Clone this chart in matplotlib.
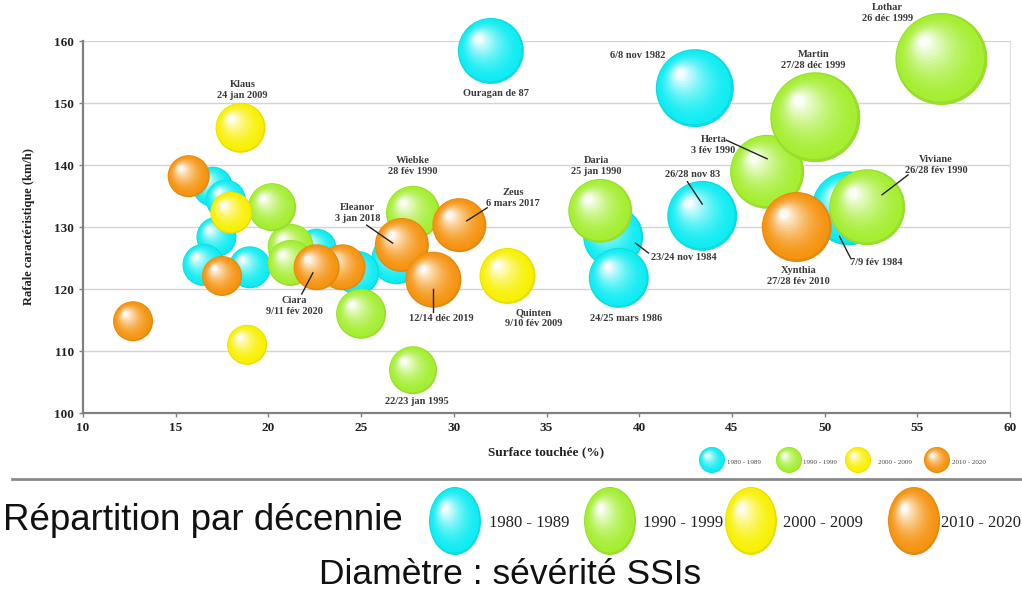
import numpy as np
import matplotlib
matplotlib.use('Agg')
from matplotlib import pyplot as plt
from matplotlib import colors as mcolors
from matplotlib.patches import Ellipse
from matplotlib.transforms import ScaledTranslation

# Tempêtes par décennie : surface touchée (%), rafale caractéristique (km/h), sévérité SSI (diamètre relatif)
surface_80 = [32.0, 43.0, 43.4, 51.3, 38.6, 38.9, 26.9, 24.8, 22.6, 17.0, 17.7, 17.2, 16.5, 19.0]
rafale_80 = [158.4, 152.4, 131.8, 133.0, 128.4, 121.8, 124.8, 122.6, 126.5, 136.5, 134.4, 128.4, 123.9, 123.5]
ssi_80 = [33, 39, 35, 37, 30, 30, 25, 22, 20, 20, 20, 20, 21, 21]

surface_90 = [56.3, 46.9, 49.5, 52.3, 37.9, 27.8, 27.8, 25.0, 21.2, 21.2, 20.2]
rafale_90 = [157.1, 138.9, 147.7, 133.2, 132.6, 132.3, 106.9, 116.0, 126.8, 124.2, 133.2]
ssi_90 = [46, 37, 45, 38, 32, 27, 24, 25, 23, 23, 24]

surface_00 = [18.5, 32.9, 18.0, 18.85]
rafale_00 = [146.0, 122.1, 132.3, 111.0]
ssi_00 = [25, 28, 21, 20]

surface_10 = [48.5, 30.3, 27.2, 28.9, 24.0, 22.6, 15.7, 17.5, 12.7]
rafale_10 = [130.0, 130.3, 127.1, 121.5, 123.5, 123.5, 138.2, 122.1, 114.8]
ssi_10 = [35, 27, 27, 28, 23, 23, 21, 20, 20]

decennies = ['1980 - 1989', '1990 - 1999', '2000 - 2009', '2010 - 2020']
couleurs = ['#0eecf2', '#a4ee30', '#f8f000', '#f5930f']

# Étiquettes : texte, x, y
etiquettes = [
    ("Klaus\n24 jan 2009", 18.6, 152.1),
    ("Ouragan de 87", 32.3, 151.6),
    ("6/8 nov 1982", 39.9, 157.6),
    ("Lothar\n26 déc 1999", 53.4, 164.5),
    ("Martin\n27/28 déc 1999", 49.4, 156.9),
    ("Herta\n3 fév 1990", 44.0, 143.2),
    ("26/28 nov 83", 42.9, 138.4),
    ("Viviane\n26/28 fév 1990", 56.0, 140.0),
    ("7/9 fév 1984", 52.8, 124.2),
    ("Xynthia\n27/28 fév 2010", 48.6, 122.1),
    ("Daria\n25 jan 1990", 37.7, 139.8),
    ("23/24 nov 1984", 42.4, 125.0),
    ("24/25 mars 1986", 39.3, 115.3),
    ("Quinten\n9/10 fév 2009", 34.3, 115.3),
    ("12/14 déc 2019", 29.3, 115.3),
    ("22/23 jan 1995", 28.0, 101.8),
    ("Zeus\n6 mars 2017", 33.2, 134.7),
    ("Wiebke\n28 fév 1990", 27.8, 139.8),
    ("Eleanor\n3 jan 2018", 24.8, 132.3),
    ("Ciara\n9/11 fév 2020", 21.4, 117.3),
]
# traits de rappel : (x0, y0, x1, y1)
traits = [
    (44.7, 144.0, 46.9, 141.0),
    (42.6, 137.3, 43.4, 133.7),
    (54.5, 138.4, 53.1, 135.2),
    (51.4, 125.0, 50.8, 128.5),
    (40.5, 125.8, 39.8, 127.4),
    (28.9, 116.3, 28.9, 120.0),
    (31.8, 133.1, 30.7, 131.0),
    (25.3, 130.3, 26.7, 127.4),
    (21.8, 119.2, 22.4, 122.6),
]

serif = ['Liberation Serif', 'DejaVu Serif']
fig = plt.figure(figsize=(10.22, 5.94), dpi=100)
ax = fig.add_axes([83 / 1022, 1 - 413 / 594, 927 / 1022, 372 / 594])

N = 18


def sphere(x, y, diam_pt, color, z):
    base = np.array(mcolors.to_rgb(color))
    for k in range(N):
        t = k / N
        f = 1 - 0.93 * t
        sh = (1 - f) * diam_pt / 2 * 0.42 / 72
        off = ScaledTranslation(-sh, sh, fig.dpi_scale_trans)
        if k == 0:
            c = base * 0.93
        else:
            c = base + (1 - base) * min(1, (t ** 1.8) * 1.05)
        ax.scatter([x], [y], s=(diam_pt * f) ** 2, color=c, edgecolors='none',
                   transform=ax.transData + off, zorder=2 + z + k * 1e-4, clip_on=False)


series = [(surface_80, rafale_80, ssi_80), (surface_90, rafale_90, ssi_90),
          (surface_00, rafale_00, ssi_00), (surface_10, rafale_10, ssi_10)]
z = 0
for (xs, ys, ss), col in zip(series, couleurs):
    for x, y, s in zip(xs, ys, ss):
        sphere(x, y, 2 * s * 0.72, col, z)
        z += 0.01

for txt, x, y in etiquettes:
    ax.text(x, y, txt, ha='center', va='center', fontsize=7.5, family=serif,
            fontweight='bold', color='#3a3a3a', linespacing=1.3, zorder=10)
for x0, y0, x1, y1 in traits:
    ax.plot([x0, x1], [y0, y1], color='#222222', lw=1, zorder=10)

ax.set_xlim(10, 60)
ax.set_ylim(100, 160)
ax.set_xticks(np.arange(10, 61, 5))
ax.set_yticks(np.arange(100, 161, 10))
ax.yaxis.grid(True, color='#d4d4d4', lw=1)
ax.set_axisbelow(True)
for sp in ['left', 'bottom']:
    ax.spines[sp].set_color('#808080')
    ax.spines[sp].set_linewidth(1.6)
ax.spines['right'].set_color('#dddddd')
ax.spines['top'].set_visible(False)
ax.tick_params(colors='#808080', length=3, width=1, labelcolor='#222222', labelsize=9.5)
for lab in ax.get_xticklabels() + ax.get_yticklabels():
    lab.set_family(serif)
    lab.set_fontweight('bold')
ax.set_ylabel('Rafale caractéristique (km/h)', family=serif, fontweight='bold',
              fontsize=9, color='#222222', labelpad=14)
ax.set_xlabel('Surface touchée (%)', family=serif, fontweight='bold',
              fontsize=9.5, color='#222222', labelpad=9)

# couche en pixels pour la légende et le bas de page
ov = fig.add_axes([0, 0, 1, 1])
ov.set_xlim(0, 1022)
ov.set_ylim(594, 0)
ov.axis('off')
ov.patch.set_visible(False)


def bulle(cx, cy, w, h, color):
    base = np.array(mcolors.to_rgb(color))
    for k in range(N):
        t = k / N
        f = 1 - 0.93 * t
        dx = (1 - f) * w / 2 * 0.42
        dy = (1 - f) * h / 2 * 0.42
        c = base * 0.93 if k == 0 else base + (1 - base) * min(1, (t ** 1.8) * 1.05)
        ov.add_patch(Ellipse((cx - dx, cy - dy), w * f, h * f, color=c, lw=0))


# petite légende
for cx, tx, lab, col in zip([712, 789, 858, 937], [727, 803, 878, 952], decennies, couleurs):
    bulle(cx, 460, 26, 26, col)
    ov.text(tx, 463, lab, fontsize=5, family=serif, color='#444444', va='center', ha='left')

ov.plot([12, 1022], [479, 479], color='#8a8a8a', lw=2)

sans = ['Liberation Sans', 'DejaVu Sans']
ov.text(3, 520, 'Répartition par décennie', fontsize=26.5, family=sans, va='center', ha='left', color='#111111')
ov.text(510, 575, 'Diamètre : sévérité SSIs', fontsize=25.5, family=sans, va='center', ha='center', color='#111111')
for cx, tx, lab, col in zip([455, 610, 751, 914], [489, 643, 783, 941], decennies, couleurs):
    bulle(cx, 521, 52, 68, col)
    ov.text(tx, 523, lab, fontsize=12, family=serif, color='#222222', va='center', ha='left')

fig.savefig('out.png', dpi=100)
